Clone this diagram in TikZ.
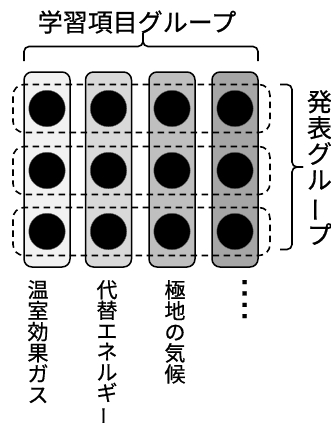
\documentclass[tikz,border=0pt]{standalone}
\usepackage{fontspec}
\newfontfamily\jp[FakeBold=0.6]{Noto Sans CJK JP}
\newcommand{\tatebar}{\rotatebox[origin=c]{90}{ー}}
\begin{document}
\begin{tikzpicture}[x=1pt,y=-1pt,
  col/.style={draw=black,line width=1.5pt,rounded corners=8pt,minimum width=46pt,minimum height=195pt,inner sep=0pt},
  dot/.style={circle,fill=black,draw=black!60,line width=0.4pt,minimum size=36.5pt,inner sep=0pt},
  rowbox/.style={draw=black,dash pattern=on 6.5pt off 4.5pt,line width=1.6pt,rounded corners=11pt,minimum width=257pt,minimum height=48pt,inner sep=0pt},
  lbl/.style={font=\jp\fontsize{21}{21}\selectfont,align=center,anchor=north,inner sep=0pt},
  bigtxt/.style={font=\jp\fontsize{25}{26}\selectfont,align=center,inner sep=0pt},
  bracket/.style={draw=black,line width=1.6pt,rounded corners=5pt}]
\useasboundingbox (0,0) rectangle (331,423);
% columns
\node[col,fill=black!5]  (c1) at (47,169.5) {};
\node[col,fill=black!15] (c2) at (108.5,169.5) {};
\node[col,fill=black!25] (c3) at (172,169.5) {};
\node[col,fill=black!35] (c4) at (235,169.5) {};
% rows
\node[rowbox] (r1) at (141.5,108.5) {};
\node[rowbox] (r2) at (141.5,170.5) {};
\node[rowbox] (r3) at (141.5,231.5) {};
% dots
\foreach \c/\x in {1/47,2/108.5,3/172,4/235}{
  \node[dot] (d1\c) at (\x,108.5) {};
  \node[dot] (d2\c) at (\x,170.5) {};
  \node[dot] (d3\c) at (\x,231.5) {};
}
% top bracket
\coordinate (tl) at (24,61);
\coordinate (tr) at (258,61);
\coordinate (tt) at (143,33);
\draw[bracket] (tl) -- (24,46.5) -- (143,46.5) -- (tt);
\draw[bracket] (tr) -- (258,46.5) -- (143,46.5) -- (tt);
\node[bigtxt] (title) at (137,22) {学習項目グループ};
% right bracket
\coordinate (rt) at (280,84.5);
\coordinate (rb) at (280,249.5);
\coordinate (rm) at (303,167);
\draw[bracket] (rt) -- (292,84.5) -- (292,167) -- (rm);
\draw[bracket] (rb) -- (292,249.5) -- (292,167) -- (rm);
\node[bigtxt,anchor=north] (happyo) at (319.5,90) {発\\表\\グ\\ル\\\tatebar\\プ};
% labels
\node[lbl] (l1) at (38,280) {温\\室\\効\\果\\ガ\\ス};
\node[lbl,font=\jp\fontsize{21}{20.6}\selectfont] (l2) at (107,280) {代\\替\\エ\\ネ\\ル\\ギ\\\tatebar};
\node[lbl] (l3) at (175,280) {極\\地\\の\\気\\候};
\node[lbl,font={\jp\fontsize{5}{11.3}\selectfont}] (l4) at (244.5,280) {■\\■\\■\\■};
\end{tikzpicture}
\end{document}
